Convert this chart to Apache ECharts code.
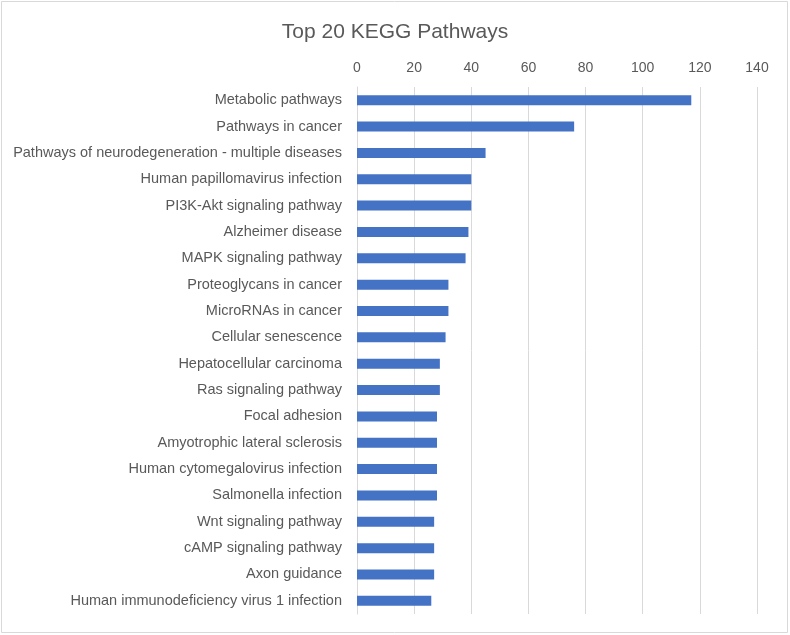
<!DOCTYPE html>
<html>
<head>
<meta charset="utf-8">
<script src="https://cdn.jsdelivr.net/npm/echarts@6/dist/echarts.min.js"></script>
<style>
html,body{margin:0;padding:0;background:#fff;}
#chart{width:790px;height:635px;}
</style>
</head>
<body>
<div id="chart"></div>
<script>
const titleText = "Top 20 KEGG Pathways";
const categories = [
  "Metabolic pathways",
  "Pathways in cancer",
  "Pathways of neurodegeneration - multiple diseases",
  "Human papillomavirus infection",
  "PI3K-Akt signaling pathway",
  "Alzheimer disease",
  "MAPK signaling pathway",
  "Proteoglycans in cancer",
  "MicroRNAs in cancer",
  "Cellular senescence",
  "Hepatocellular carcinoma",
  "Ras signaling pathway",
  "Focal adhesion",
  "Amyotrophic lateral sclerosis",
  "Human cytomegalovirus infection",
  "Salmonella infection",
  "Wnt signaling pathway",
  "cAMP signaling pathway",
  "Axon guidance",
  "Human immunodeficiency virus 1 infection"
];
const counts = [117, 76, 45, 40, 40, 39, 38, 32, 32, 31, 29, 29, 28, 28, 28, 28, 27, 27, 27, 26];
const xMin = 0, xMax = 140, xStep = 20;

const chart = echarts.init(document.getElementById('chart'), null, {renderer: 'canvas'});
const font = '"Liberation Sans", "DejaVu Sans", sans-serif';
chart.setOption({
  animation: false,
  backgroundColor: '#ffffff',
  title: {
    text: titleText,
    left: 'center',
    top: 17,
    textStyle: {fontFamily: font, fontSize: 21, fontWeight: 'normal', color: '#595959'}
  },
  graphic: [{
    type: 'rect',
    shape: {x: 1.5, y: 1.5, width: 786, height: 631},
    style: {fill: 'none', stroke: '#d9d9d9', lineWidth: 1},
    silent: true
  }],
  grid: {left: 357, right: 33, top: 87, bottom: 21, containLabel: false},
  xAxis: {
    type: 'value',
    position: 'top',
    min: xMin, max: xMax, interval: xStep,
    axisLine: {show: false},
    axisTick: {show: false},
    axisLabel: {fontFamily: font, fontSize: 14, color: '#595959', margin: 12},
    splitLine: {show: true, lineStyle: {color: '#d9d9d9', width: 1}}
  },
  yAxis: {
    type: 'category',
    inverse: true,
    data: categories,
    axisLine: {show: true, lineStyle: {color: '#d9d9d9'}},
    axisTick: {show: false},
    axisLabel: {fontFamily: font, fontSize: 14.5, color: '#595959', margin: 15, padding: [3, 0, 0, 0]}
  },
  series: [{
    type: 'bar',
    data: counts,
    barWidth: 10,
    itemStyle: {color: '#4472C4'}
  }]
});
</script>
</body>
</html>
